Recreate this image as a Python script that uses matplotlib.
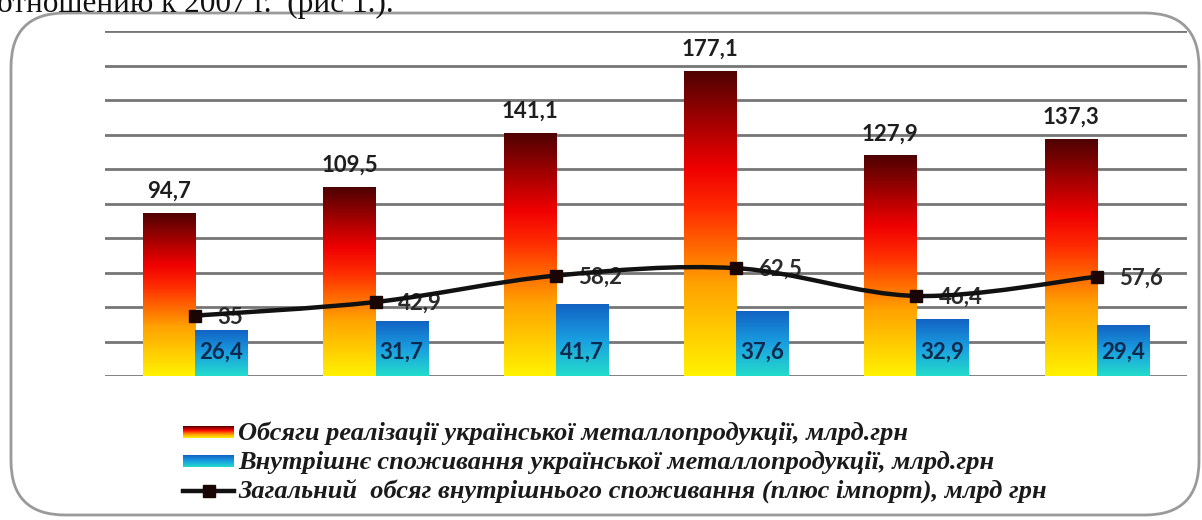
import numpy as np
import matplotlib
matplotlib.use("Agg")
import matplotlib.pyplot as plt
from matplotlib.colors import LinearSegmentedColormap
from matplotlib.path import Path
from matplotlib.patches import PathPatch, FancyBboxPatch

# --- data -------------------------------------------------------------
categories = ["2007", "2008", "2009", "2010", "2011", "2012"]
sales_total = [94.7, 109.5, 141.1, 177.1, 127.9, 137.3]        # Обсяги реалізації
domestic_use = [26.4, 31.7, 41.7, 37.6, 32.9, 29.4]            # Внутрішнє споживання
total_with_import = [35, 42.9, 58.2, 62.5, 46.4, 57.6]         # Загальний обсяг (плюс імпорт)

value_labels_sales = ["94,7", "109,5", "141,1", "177,1", "127,9", "137,3"]
value_labels_domestic = ["26,4", "31,7", "41,7", "37,6", "32,9", "29,4"]
value_labels_total = ["35", "42,9", "58,2", "62,5", "46,4", "57,6"]

legend_labels = [
    "Обсяги реалізації української металлопродукції, млрд.грн",
    "Внутрішнє споживання української металлопродукції, млрд.грн",
    "Загальний  обсяг внутрішнього споживання (плюс імпорт), млрд грн",
]

W, H = 1202, 520
DPI = 100

fire = LinearSegmentedColormap.from_list(
    "fire", [(0.0, "#fff200"), (0.30, "#ffa200"), (0.55, "#ff2a00"),
             (0.68, "#f00000"), (1.0, "#4e0202")])
sea = LinearSegmentedColormap.from_list(
    "sea", [(0.0, "#24dccb"), (0.5, "#1a9fe0"), (1.0, "#1262c4")])

label_font = dict(family="Lato", fontweight="bold", fontsize=16)

fig = plt.figure(figsize=(W / DPI, H / DPI), dpi=DPI)
fig.patch.set_facecolor("white")


def px_rect(x0, y0, x1, y1):
    """Figure-fraction rectangle from top-left pixel coordinates."""
    return [x0 / W, 1 - y1 / H, (x1 - x0) / W, (y1 - y0) / H]


# rounded frame around the chart
frame = FancyBboxPatch((11 / W, 1 - 515 / H), (1199 - 11) / W, (515 - 13) / H,
                       boxstyle="round,pad=0,rounding_size=0.045",
                       transform=fig.transFigure, fill=False,
                       edgecolor="#9a9a9a", linewidth=2.0,
                       mutation_aspect=W / H)
fig.patches.append(frame)

# running text line of the page above the chart
fig.text(-3 / W, 1 - 12 / H, "отношению к 2007 г.  (рис 1.).",
         family="Liberation Serif", fontsize=22.5, color="#111111",
         ha="left", va="baseline")

ax = fig.add_axes(px_rect(105, 31, 1187, 376))
ax.set_xlim(-0.5, len(categories) - 0.5)
ax.set_ylim(0, 200)
ax.set_yticks(np.arange(0, 201, 20))
ax.yaxis.grid(True, color="#767676", linewidth=2.0)
ax.set_axisbelow(True)
for s in ax.spines.values():
    s.set_visible(False)
ax.tick_params(left=False, bottom=False, labelleft=False, labelbottom=False)

x = np.arange(len(categories))
bw = 0.29

grad = np.linspace(0, 1, 256).reshape(-1, 1)


def gradient_bars(xpos, values, cmap):
    bars = ax.bar(xpos, values, width=bw, color="none", edgecolor="none",
                  zorder=2)
    for b in bars:
        x0, y0 = b.get_x(), b.get_y()
        img = ax.imshow(grad, cmap=cmap, origin="lower", aspect="auto",
                        extent=(x0, x0 + b.get_width(), y0, y0 + b.get_height()),
                        zorder=2, interpolation="bilinear")
        img.set_clip_path(b)
    return bars


bars_sales = gradient_bars(x - bw / 2, sales_total, fire)
bars_dom = gradient_bars(x + bw / 2, domestic_use, sea)
ax.set_xlim(-0.5, len(categories) - 0.5)
ax.set_ylim(0, 200)

# smoothed line through the totals (Catmull-Rom as cubic Bezier segments)
px_pts = x.astype(float)
py_pts = np.array(total_with_import, dtype=float)
verts = [(px_pts[0], py_pts[0])]
codes = [Path.MOVETO]
n = len(px_pts)
for i in range(n - 1):
    i0, i2, i3 = max(i - 1, 0), i + 1, min(i + 2, n - 1)
    c1 = (px_pts[i] + (px_pts[i2] - px_pts[i0]) / 6,
          py_pts[i] + (py_pts[i2] - py_pts[i0]) / 6)
    c2 = (px_pts[i2] - (px_pts[i3] - px_pts[i]) / 6,
          py_pts[i2] - (py_pts[i3] - py_pts[i]) / 6)
    verts += [c1, c2, (px_pts[i2], py_pts[i2])]
    codes += [Path.CURVE4] * 3
ax.add_patch(PathPatch(Path(verts, codes), fill=False, edgecolor="#111111",
                       linewidth=3.2, zorder=5, capstyle="round"))
ax.plot(px_pts, py_pts, linestyle="none", marker="s", markersize=9,
        color="#1a0505", zorder=6)

# value labels
for b, t in zip(bars_sales, value_labels_sales):
    ax.annotate(t, (b.get_x() + b.get_width() / 2, b.get_height()),
                xytext=(0, 8), textcoords="offset points", ha="center",
                va="bottom", color="#1e1e1e", zorder=7, **label_font)
for b, t in zip(bars_dom, value_labels_domestic):
    ax.annotate(t, (b.get_x() + b.get_width() / 2, 0),
                xytext=(0, 17), textcoords="offset points", ha="center",
                va="center", color="#0d2a4e", zorder=7, **label_font)
for xi, yi, t in zip(px_pts, py_pts, value_labels_total):
    ax.annotate(t, (xi, yi), xytext=(16, -1), textcoords="offset points",
                ha="left", va="center", color="#2b2b2b", zorder=4,
                **label_font)

# legend
lax = fig.add_axes([0, 0, 1, 1], facecolor="none")
lax.set_xlim(0, W)
lax.set_ylim(H, 0)
lax.axis("off")
rows = [432, 461, 491]
sw_x0, sw_x1 = 183, 234
lax.imshow(grad[::-1], cmap=fire, aspect="auto",
           extent=(sw_x0, sw_x1, rows[0] + 6, rows[0] - 6), zorder=2)
lax.imshow(grad[::-1], cmap=sea, aspect="auto",
           extent=(sw_x0, sw_x1, rows[1] + 6, rows[1] - 6), zorder=2)
lax.plot([sw_x0, sw_x1], [rows[2], rows[2]], color="#111111", linewidth=3.2)
lax.plot([(sw_x0 + sw_x1) / 2], [rows[2]], marker="s", markersize=9,
         color="#1a0505", linestyle="none")
lax.set_xlim(0, W)
lax.set_ylim(H, 0)
for r, t in zip(rows, legend_labels):
    lax.text(238, r + 1, t, family="Liberation Serif", style="italic",
             fontweight="bold", fontsize=19, color="#1a1a1a",
             ha="left", va="center")

fig.savefig("out.png", dpi=DPI, facecolor="white")
